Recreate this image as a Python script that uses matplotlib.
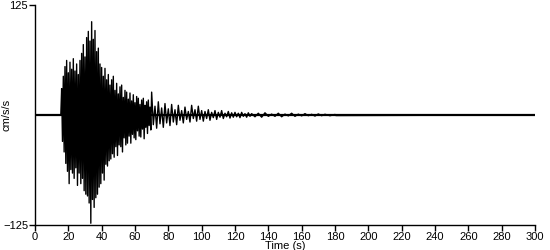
import numpy as np
import matplotlib.pyplot as plt

plt.rcParams['font.family'] = ['Liberation Sans', 'DejaVu Sans']

# peak amplitudes (cm/s/s), per time step
peak_t = [15, 16, 17, 18, 19, 20, 21, 22, 23, 24, 25, 26, 27, 28, 29, 30,
          31, 32, 33, 34, 35, 36, 37, 38, 39, 40, 41, 42, 43, 44, 45, 46,
          47, 48, 49, 50, 51, 52, 53, 54, 55, 56, 57, 58, 59, 60, 61, 62,
          63, 64, 65, 66, 67, 68, 69, 70,
          72, 74, 76, 78, 80, 82, 84, 86, 88, 90, 92, 94, 96, 98, 100,
          102, 104, 106, 108, 110, 112, 114, 116, 118, 120, 122, 124, 126,
          128, 130, 134, 138, 142, 146, 150, 154, 158, 162, 166, 170, 174, 180]
peak_up = [0, 30, 44, 55, 62, 48, 60, 52, 64, 50, 58, 46, 62, 70, 80, 66,
           88, 95, 84, 106, 86, 96, 72, 76, 58, 54, 44, 53, 40, 46, 34, 40,
           44, 28, 36, 24, 32, 34, 20, 28, 26, 18, 25, 16, 23, 14, 21, 19,
           12, 17, 19, 11, 15, 17, 9, 26,
           10, 15, 8, 13, 7, 12, 6, 11, 5, 9, 4, 11, 6, 10, 5,
           4, 6, 3, 5, 3, 5, 2, 4, 2.5, 3, 2, 3, 1.5, 2.5,
           1.5, 2, 2.5, 1, 2, 1, 2, 1, 1.5, 0.8, 1.2, 0.8, 0.6]
peak_dn = [0, -30, -42, -55, -64, -78, -62, -66, -72, -60, -80, -66, -78, -72, -86, -90,
           -92, -100, -123, -96, -105, -94, -90, -82, -78, -66, -74, -56, -58, -52, -50, -44,
           -48, -36, -46, -34, -36, -42, -26, -34, -32, -24, -32, -22, -26, -28, -18, -24,
           -25, -16, -27, -14, -21, -12, -17, -11,
           -15, -10, -14, -9, -12, -8, -11, -6, -9, -5, -8, -4, -7, -5, -7,
           -4, -6, -3, -5, -2.5, -4, -2, -3.5, -2.5, -2, -3, -1.5, -2.5, -1.5,
           -2, -2.5, -1.5, -1.5, -2, -1, -1.5, -1, -0.8, -1.2, -0.8, -0.8, -0.6]

# build the trace: positive peak then negative peak within each step
t_up = np.array(peak_t, dtype=float)
t_next = np.append(t_up[1:], t_up[-1] + 1)
t_dn = (t_up + t_next) / 2
t = np.empty(2 * len(t_up))
a = np.empty(2 * len(t_up))
t[0::2], t[1::2] = t_up, t_dn
a[0::2], a[1::2] = peak_up, peak_dn
t = np.concatenate([[0], t, [300]])
a = np.concatenate([[0], a, [0]])

fig = plt.figure(figsize=(5.5, 2.5), dpi=100)
ax = fig.add_axes([0.0636, 0.1, 0.9091, 0.88])
ax.plot(t, a, color='black', lw=1.0)
ax.plot([0, 300], [0, 0], color='black', lw=1.6)

ax.set_xlim(0, 300)
ax.set_ylim(-125, 125)
ax.set_xticks(np.arange(0, 301, 20))
ax.set_yticks([-125, 125])
for s in ['top', 'right']:
    ax.spines[s].set_visible(False)
for s in ['left', 'bottom']:
    ax.spines[s].set_linewidth(1.0)
ax.tick_params(labelsize=8, length=4, width=1, pad=1)
ax.set_xlabel('Time (s)', fontsize=8, labelpad=-1)
ax.set_ylabel('cm/s/s', fontsize=8)
ax.yaxis.set_label_coords(-0.046, 0.5)

fig.savefig('out.png', dpi=100)
